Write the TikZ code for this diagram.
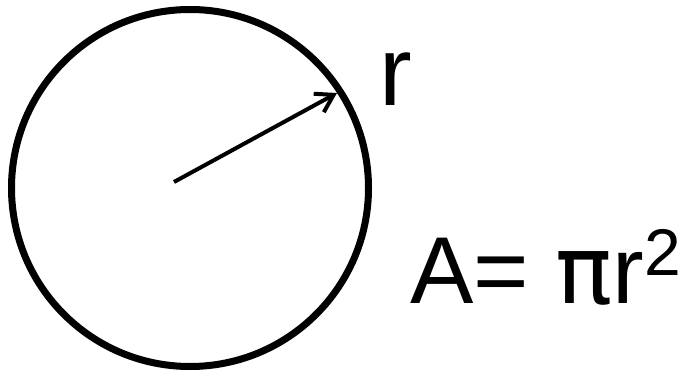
\documentclass[tikz,border=0pt]{standalone}
\usepackage{fontspec}
\setmainfont{Liberation Sans}
\newfontfamily\grec{DejaVu Sans}
\usetikzlibrary{positioning,arrows.meta}
\tikzset{
  cerc/.style     = {draw, circle, line width=7pt, minimum size=357pt, inner sep=0pt},
  sageata/.style  = {-{Straight Barb[length=17pt, width=21pt]}, line width=4pt},
  eticheta/.style = {inner sep=0pt, font=\fontsize{98}{98}\selectfont}
}
\begin{document}
\begin{tikzpicture}[x=1pt, y=-1pt]
        \useasboundingbox (0,0) rectangle (685,372);
        \node[cerc] (cerc) at (190,188) {};
        \coordinate (centru) at (174,182);
        \coordinate (varf) at (337,93);
        \draw[sageata] (centru) -- (varf);

        \node[eticheta, anchor=base west] (raza) at (379,105) {r};
        \node[eticheta, anchor=base west, font=\fontsize{95}{95}\selectfont] (arie) at (410,303)
            {A= {\grec\fontsize{95}{95}\selectfont π}r\raisebox{28pt}{\fontsize{66}{66}\selectfont 2}};
    \end{tikzpicture}
\end{document}
